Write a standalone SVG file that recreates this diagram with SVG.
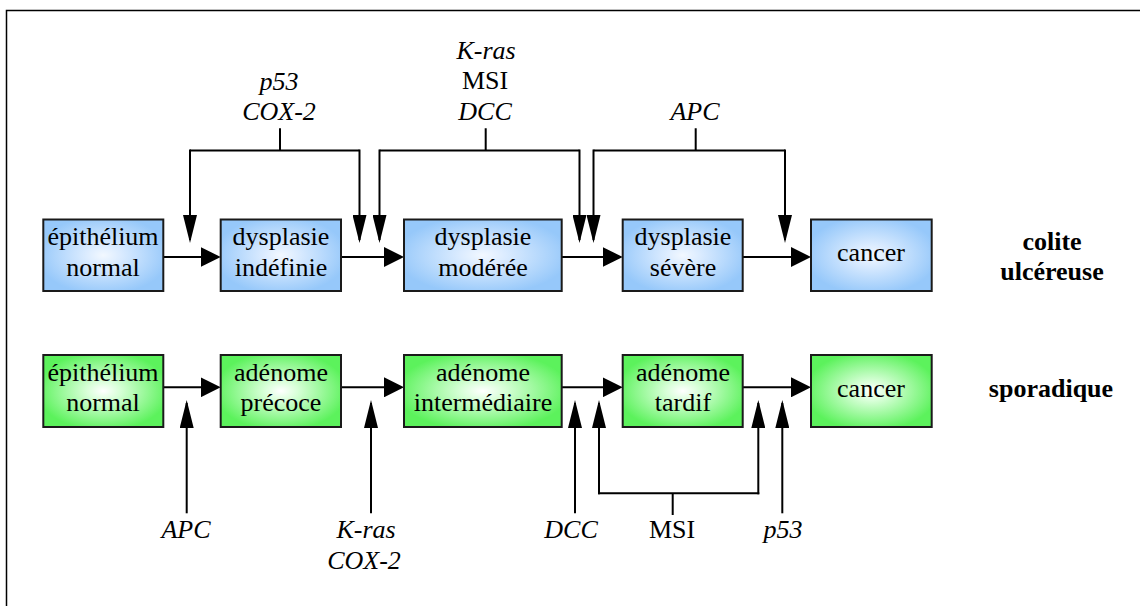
<svg xmlns="http://www.w3.org/2000/svg" width="1140" height="606" viewBox="0 0 1140 606">
<style>
text{font-family:'Liberation Serif','Times New Roman',Times,serif;font-size:26px;fill:#000;text-anchor:middle}
.i{font-style:italic}
.b{font-weight:bold}
.box{stroke:#1a1a1a;stroke-width:2}
.blue{fill:url(#gb)}
.green{fill:url(#gg)}
.ln{stroke:#000;stroke-width:2;fill:none}
.h{marker-end:url(#ah)}
.v{marker-end:url(#av)}
</style>
<defs>
<radialGradient id="gb" cx="0.5" cy="0.5" r="0.55">
<stop offset="0" stop-color="#f2f8ff"/>
<stop offset="0.25" stop-color="#dcecff"/>
<stop offset="1" stop-color="#96c8fa"/>
</radialGradient>
<radialGradient id="gg" cx="0.5" cy="0.5" r="0.55">
<stop offset="0" stop-color="#ffffff"/>
<stop offset="0.25" stop-color="#d8ffd8"/>
<stop offset="1" stop-color="#5cf25c"/>
</radialGradient>
<marker id="ah" markerUnits="userSpaceOnUse" viewBox="0 0 20 20" refX="17" refY="10" markerWidth="20" markerHeight="20" orient="auto">
<path d="M0,0 L20,10 L0,20 z" fill="#000"/>
</marker>
<marker id="av" markerUnits="userSpaceOnUse" viewBox="0 0 28 14" refX="25" refY="7" markerWidth="28" markerHeight="14" orient="auto">
<path d="M0,0 L28,7 L0,14 z" fill="#000"/>
</marker>
</defs>

<rect x="6.5" y="10.5" width="1200" height="700" fill="none" stroke="#000" stroke-width="1.5"/>

<g id="connectors">
<line class="ln h" x1="163" y1="257" x2="217.7" y2="257"/>
<line class="ln h" x1="341" y1="257" x2="401" y2="257"/>
<line class="ln h" x1="561.7" y1="257" x2="619.7" y2="257"/>
<line class="ln h" x1="742.7" y1="257" x2="808" y2="257"/>
<line class="ln h" x1="163" y1="387.3" x2="217.7" y2="387.3"/>
<line class="ln h" x1="341" y1="387.3" x2="401" y2="387.3"/>
<line class="ln h" x1="561.7" y1="387.3" x2="619.7" y2="387.3"/>
<line class="ln h" x1="742.7" y1="387.3" x2="808" y2="387.3"/>
<path class="ln" d="M190,150.5 H359.5 M280,128.3 V150.5"/>
<path class="ln" d="M379.5,150.5 H579.5 M485.7,128.3 V150.5"/>
<path class="ln" d="M593.5,150.5 H785 M695.7,128.3 V150.5"/>
<line class="ln v" x1="190" y1="149.5" x2="190" y2="240"/>
<line class="ln v" x1="359.5" y1="149.5" x2="359.5" y2="240"/>
<line class="ln v" x1="379.5" y1="149.5" x2="379.5" y2="240"/>
<line class="ln v" x1="579.5" y1="149.5" x2="579.5" y2="240"/>
<line class="ln v" x1="593.5" y1="149.5" x2="593.5" y2="240"/>
<line class="ln v" x1="785" y1="149.5" x2="785" y2="240"/>
<line class="ln v" x1="186.7" y1="513.3" x2="186.7" y2="403"/>
<line class="ln v" x1="371" y1="513.3" x2="371" y2="403"/>
<line class="ln v" x1="575" y1="513.3" x2="575" y2="403"/>
<line class="ln v" x1="782.3" y1="513.3" x2="782.3" y2="403"/>
<path class="ln" d="M598,493.3 H759.3 M672.7,493.3 V515"/>
<line class="ln v" x1="599" y1="494.3" x2="599" y2="403"/>
<line class="ln v" x1="758.3" y1="494.3" x2="758.3" y2="403"/>
</g>

<g id="b1"><rect class="box blue" x="43.3" y="219.5" width="120" height="71.5"/><text x="103" y="245">épithélium</text><text x="103" y="275.5">normal</text></g>
<g id="b2"><rect class="box blue" x="220.7" y="219.5" width="120.3" height="71.5"/><text x="281" y="245">dysplasie</text><text x="281" y="275.5">indéfinie</text></g>
<g id="b3"><rect class="box blue" x="404" y="219.5" width="157.7" height="71.5"/><text x="483" y="245">dysplasie</text><text x="483" y="275.5">modérée</text></g>
<g id="b4"><rect class="box blue" x="622.7" y="219.5" width="120" height="71.5"/><text x="683" y="245">dysplasie</text><text x="683" y="275.5">sévère</text></g>
<g id="b5"><rect class="box blue" x="811" y="219.5" width="120.7" height="71.5"/><text x="871" y="261">cancer</text></g>

<g id="g1"><rect class="box green" x="43.3" y="355" width="120" height="72"/><text x="103" y="381">épithélium</text><text x="103" y="411">normal</text></g>
<g id="g2"><rect class="box green" x="220.7" y="355" width="120.3" height="72"/><text x="281" y="381">adénome</text><text x="281" y="411">précoce</text></g>
<g id="g3"><rect class="box green" x="404" y="355" width="157.7" height="72"/><text x="483" y="381">adénome</text><text x="483" y="411">intermédiaire</text></g>
<g id="g4"><rect class="box green" x="622.7" y="355" width="120" height="72"/><text x="683" y="381">adénome</text><text x="683" y="411">tardif</text></g>
<g id="g5"><rect class="box green" x="811" y="355" width="120.7" height="72"/><text x="871" y="396.5">cancer</text></g>

<g id="labels-top">
<text class="i" x="279" y="90">p53</text>
<text class="i" x="279" y="119.5">COX-2</text>
<text class="i" x="486" y="58.8">K-ras</text>
<text x="485" y="89">MSI</text>
<text class="i" x="485" y="119.8">DCC</text>
<text class="i" x="695" y="120">APC</text>
</g>

<g id="labels-bottom">
<text class="i" x="186" y="538.3">APC</text>
<text class="i" x="366" y="538.3">K-ras</text>
<text class="i" x="364" y="568.5">COX-2</text>
<text class="i" x="571" y="538.3">DCC</text>
<text x="672" y="538.3">MSI</text>
<text class="i" x="783" y="538.3">p53</text>
</g>

<g id="row-labels">
<text class="b" x="1052" y="250">colite</text>
<text class="b" x="1052" y="280">ulcéreuse</text>
<text class="b" x="1051" y="397">sporadique</text>
</g>
</svg>
